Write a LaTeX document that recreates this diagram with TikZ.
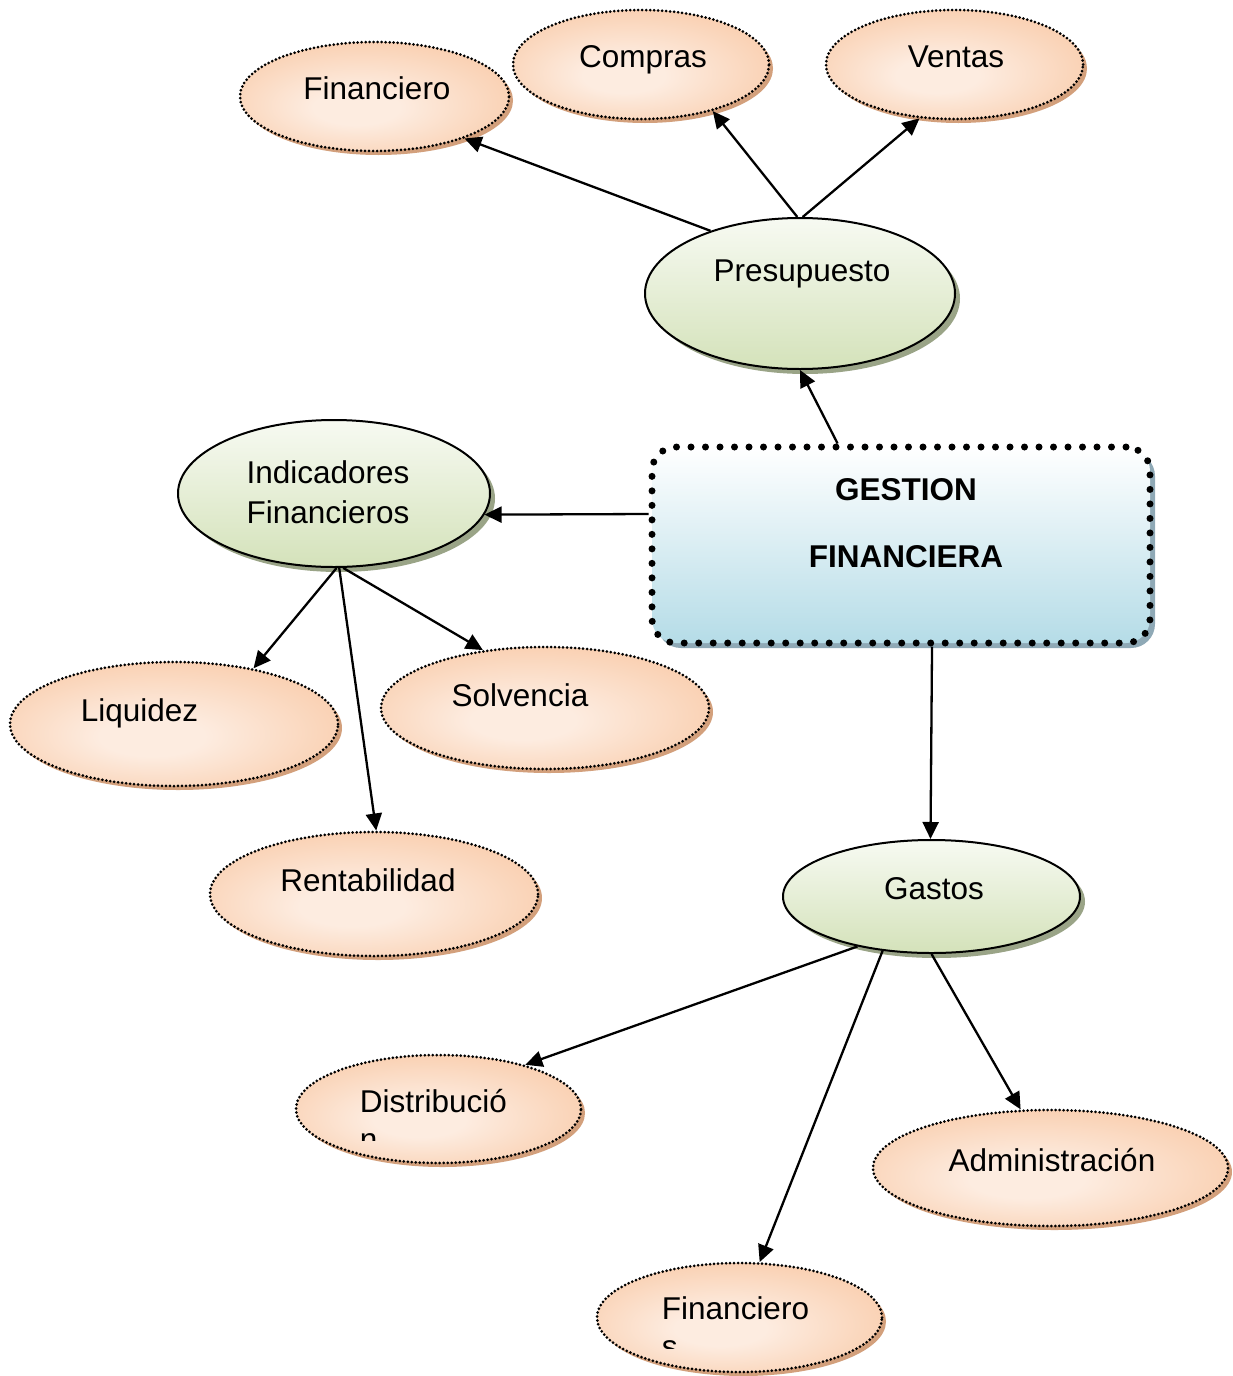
\documentclass[tikz,border=0pt]{standalone}
\usepackage{fontspec}
\setmainfont{Liberation Sans}
\usetikzlibrary{shapes.geometric,arrows.meta,shadows}
\definecolor{orIn}{HTML}{FDECE0}
\definecolor{orOut}{HTML}{F7BE94}
\definecolor{orSh}{HTML}{D3A07C}
\definecolor{grTop}{HTML}{F7FAF2}
\definecolor{grBot}{HTML}{D4E2BA}
\definecolor{grSh}{HTML}{9AA487}
\definecolor{blTop}{HTML}{FFFFFF}
\definecolor{blBot}{HTML}{B5DCE7}
\definecolor{blSh}{HTML}{8FA9B6}
\pgfdeclareradialshading{orshade}{\pgfpoint{-4bp}{-6bp}}{color(0bp)=(orIn); color(8bp)=(orIn); color(42bp)=(orOut); color(50bp)=(orOut)}
\tikzset{
  ov/.style 2 args={minimum width=#1pt, minimum height=#2pt},
  orbub/.style={ellipse, inner sep=0pt, shading=orshade,
    draw=black, line width=3pt, dash pattern=on 0pt off 4pt, line cap=round,
    drop shadow={shadow xshift=4pt, shadow yshift=-4pt, fill=orSh, draw=none, opacity=1}},
  grbub/.style={ellipse, inner sep=0pt, top color=grTop, bottom color=grBot,
    draw=black, line width=2pt,
    drop shadow={shadow xshift=5pt, shadow yshift=-5pt, fill=grSh, draw=none, opacity=1}},
  mainbox/.style={rectangle, rounded corners=24pt, inner sep=0pt, top color=blTop, bottom color=blBot,
    draw=black, line width=7pt, dash pattern=on 0pt off 14.5pt, line cap=round,
    drop shadow={shadow xshift=5pt, shadow yshift=-5pt, fill=blSh, draw=none, opacity=1}},
  txt/.style={inner sep=0pt, align=center},
  btxt/.style={inner sep=0pt, anchor=base},
  arr/.style={-{Triangle[length=17pt,width=16pt]}, line width=2.3pt}
}
\begin{document}
\begin{tikzpicture}[x=1pt,y=-1pt,
  every node/.style={font=\fontsize{31.5}{38}\selectfont}]
\useasboundingbox (0,0) rectangle (1233,1376);

% shapes
\node[orbub, ov={269}{109}] (fin1) at (374.5,96.5) {};
\node[orbub, ov={256}{109}] (comp) at (641,64.5) {};
\node[orbub, ov={257}{109}] (vent) at (954.5,64.5) {};
\node[grbub, ov={310}{151}] (pres) at (800,293.5) {};
\node[grbub, ov={312}{147}] (ind) at (334,493.5) {};
\node[mainbox, minimum width=498pt, minimum height=196pt] (gf) at (901,545) {};
\node[orbub, ov={328}{124}] (liq) at (174,724) {};
\node[orbub, ov={328}{122}] (solv) at (545,708) {};
\node[orbub, ov={328}{124}] (rent) at (374,894) {};
\node[grbub, ov={297}{113}] (gas) at (931.5,896.5) {};
\node[orbub, ov={285}{108}] (dist) at (438.5,1109) {};
\node[orbub, ov={355}{116}] (adm) at (1050.5,1168) {};
\node[orbub, ov={285}{109}] (fin2) at (739.5,1317.5) {};

% texts
\node[btxt] (tfin1) at (377,99.3) {Financiero};
\node[btxt] (tcomp) at (643,67.3) {Compras};
\node[btxt] (tvent) at (956,67.3) {Ventas};
\node[btxt] (tpres) at (802,281.3) {Presupuesto};
\node[txt, font=\fontsize{31.5}{40}\selectfont] (tind) at (328,492) {Indicadores\\Financieros};
\node[txt, font=\fontsize{31.5}{38}\selectfont\bfseries] (tgf) at (906,523.5) {GESTION\\[29pt]FINANCIERA};
\node[btxt] (tliq) at (139.5,721.3) {Liquidez};
\node[btxt] (tsolv) at (520,706.3) {Solvencia};
\node[btxt] (trent) at (368,891.3) {Rentabilidad};
\node[btxt] (tgas) at (934,899.3) {Gastos};
\node[btxt] (tadm) at (1052,1171.3) {Administración};
\begin{scope}
  \clip (290,1060) rectangle (590,1140);
  \node[txt, align=left] (tdist) at (433.5,1120) {Distribució\\n};
\end{scope}
\begin{scope}
  \clip (590,1270) rectangle (890,1348);
  \node[txt, align=left] (tfin2) at (735.5,1327.5) {Financiero\\s};
\end{scope}

% connectors
\draw[arr] (pres.145.6) -- (fin1.335.5);
\draw[arr] (pres.92) -- (comp.327.8);
\draw[arr] (pres.88) -- (vent.237.5);
\draw[arr] (gf.122.7) -- (pres.270);
\draw[arr] (gf.173.6) -- (ind.352);
\draw[arr] (ind.272) -- (liq.35);
\draw[arr] (ind.274) -- (rent.88);
\draw[arr] (ind.277) -- (solv.137.8);
\draw[arr] (gf.287.6) -- (gas.91);
\draw[arr] (gas.214.9) -- (dist.27.6);
\draw[arr] (gas.228.3) -- (fin2.70);
\draw[arr] (gas.270) -- (adm.117.7);
\end{tikzpicture}
\end{document}
